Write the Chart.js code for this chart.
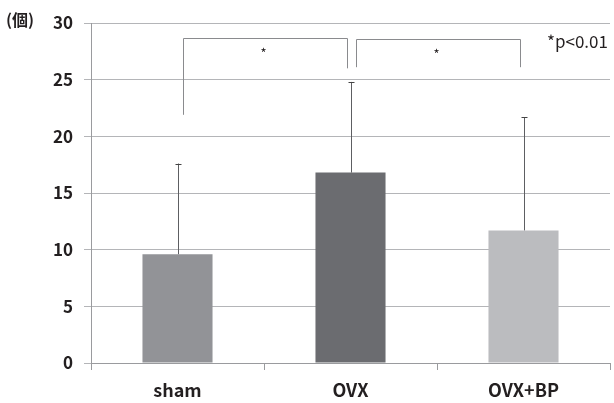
<!DOCTYPE html>
<html>
<head>
<meta charset="utf-8">
<script src="https://cdn.jsdelivr.net/npm/chart.js@4"></script>
<style>
  html, body { margin: 0; padding: 0; background: #fff; }
  #wrap { width: 614px; height: 403px; position: relative; }
</style>
</head>
<body>
<div id="wrap"><canvas id="c"></canvas></div>
<script>
// Groups and measured means / upper error (SD)
const categories = ['sham', 'OVX', 'OVX+BP'];
const means = [9.6, 16.8, 11.7];
const errors = [8.0, 8.0, 10.0];
const barColors = ['#929397', '#6b6c70', '#bbbcbf'];
const yTicks = [0, 5, 10, 15, 20, 25, 30];

// Significance brackets: [from index, to index, top value, left leg end, right leg end]
const bracketFrom = [0, 1];
const bracketTo = [1, 2];
const bracketTop = [28.7, 28.6];
const bracketLeftEnd = [21.9, 26.1];
const bracketRightEnd = [26.0, 26.1];
const bracketMark = ['*', '*'];
const unitLabel = '(個)';
const noteLabel = '*p<0.01';

const FONT = '"Noto Sans CJK JP", "Noto Sans", sans-serif';
const TEXT = '#231f20';

const errorBars = {
  id: 'errorBars',
  afterDatasetsDraw(chart) {
    const { ctx, scales: { x, y } } = chart;
    ctx.save();
    categories.forEach((c, i) => {
      const px = Math.round(x.getPixelForValue(i)) + 0.5;
      const yTop = y.getPixelForValue(means[i] + errors[i]);
      const yBase = y.getPixelForValue(means[i]);
      ctx.strokeStyle = '#5d5e62';
      ctx.lineWidth = 1;
      ctx.beginPath();
      ctx.moveTo(px, yBase);
      ctx.lineTo(px, yTop);
      ctx.stroke();
      ctx.strokeStyle = '#444';
      ctx.beginPath();
      ctx.moveTo(px - 3, Math.round(yTop) + 0.5);
      ctx.lineTo(px + 3, Math.round(yTop) + 0.5);
      ctx.stroke();
    });
    ctx.restore();
  }
};

const brackets = {
  id: 'brackets',
  afterDraw(chart) {
    const { ctx, scales: { x, y } } = chart;
    ctx.save();
    ctx.strokeStyle = '#8a8b8e';
    ctx.lineWidth = 1;
    bracketFrom.forEach((f, k) => {
      const xl = Math.round(x.getPixelForValue(f)) + 5.5;
      const xr = Math.round(x.getPixelForValue(bracketTo[k])) - 3.5;
      const yt = Math.round(y.getPixelForValue(bracketTop[k])) + 0.5;
      ctx.beginPath();
      ctx.moveTo(xl, y.getPixelForValue(bracketLeftEnd[k]));
      ctx.lineTo(xl, yt);
      ctx.lineTo(xr, yt);
      ctx.lineTo(xr, y.getPixelForValue(bracketRightEnd[k]));
      ctx.stroke();
      ctx.fillStyle = TEXT;
      ctx.font = '13px ' + FONT;
      ctx.textAlign = 'center';
      ctx.textBaseline = 'middle';
      ctx.fillText(bracketMark[k], (xl + xr) / 2 - 2, yt + 15);
    });
    // unit label and significance note
    ctx.fillStyle = TEXT;
    ctx.textAlign = 'left';
    ctx.textBaseline = 'middle';
    ctx.font = 'bold 16px ' + FONT;
    ctx.fillText(unitLabel, 6, 20);
    ctx.font = '17px ' + FONT;
    ctx.fillText(noteLabel, 547, 42);
    ctx.restore();
  }
};

new Chart(document.getElementById('c'), {
  type: 'bar',
  data: {
    labels: categories,
    datasets: [{
      data: means,
      backgroundColor: barColors,
      borderWidth: 0,
      categoryPercentage: 1.0,
      barPercentage: 0.405
    }]
  },
  options: {
    responsive: true,
    maintainAspectRatio: false,
    animation: false,
    events: [],
    layout: { padding: { top: 23, right: 4, left: 0, bottom: 0 } },
    plugins: { legend: { display: false }, tooltip: { enabled: false } },
    scales: {
      x: {
        grid: { display: true, drawOnChartArea: false, offset: true, tickLength: 7, color: '#9a9b9e' },
        border: { display: true, color: '#9a9b9e' },
        ticks: { color: TEXT, font: { family: FONT, size: 18, weight: 'bold' }, padding: 9 },
        afterFit(s) { s.height = 40; }
      },
      y: {
        min: 0,
        max: 30,
        afterBuildTicks(s) { s.ticks = yTicks.map(v => ({ value: v })); },
        grid: { color: '#b4b5b8', tickLength: 7 },
        border: { display: true, color: '#9a9b9e' },
        ticks: { color: TEXT, font: { family: FONT, size: 17, weight: 'bold' }, padding: 11 },
        afterFit(s) { s.width = 91; }
      }
    }
  },
  plugins: [errorBars, brackets]
});
</script>
</body>
</html>
